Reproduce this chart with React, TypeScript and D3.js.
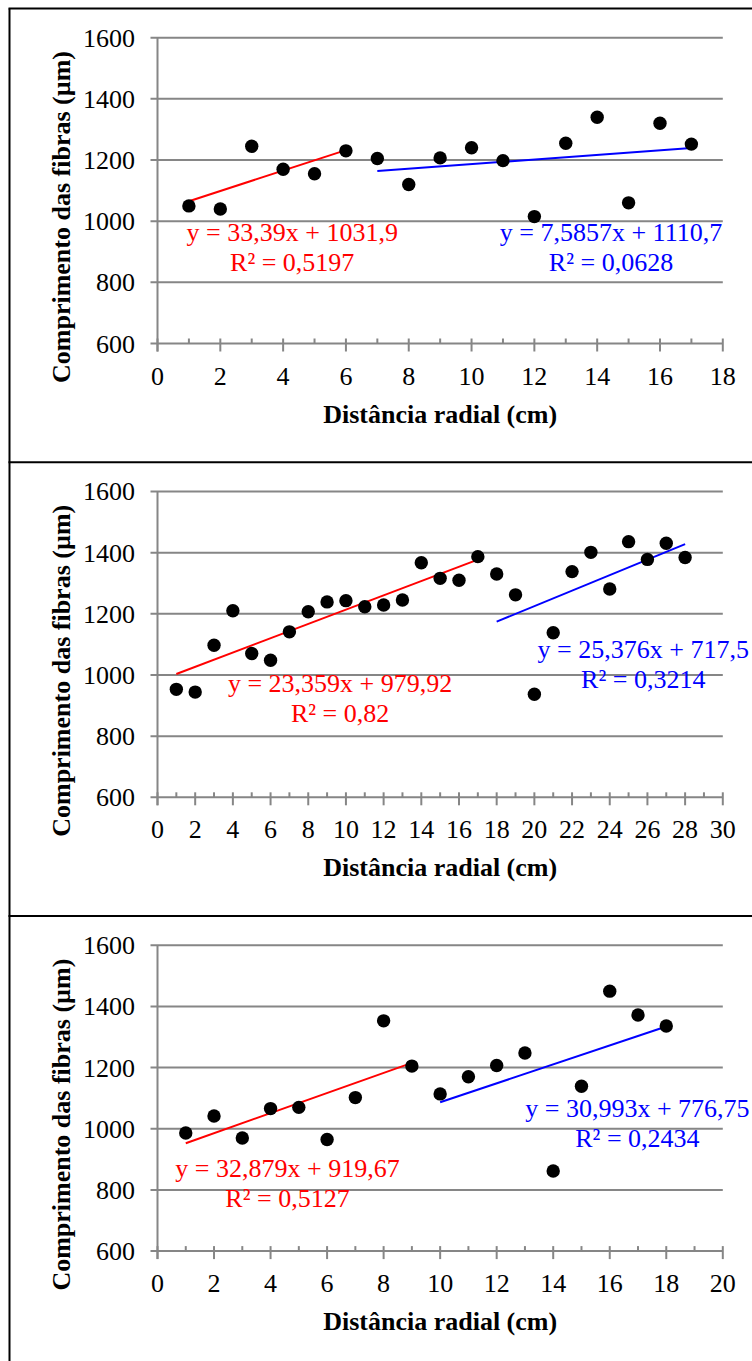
import React from "react";
import * as d3 from "d3";

// Fibre length (µm) against radial distance (cm), one tree per panel
const yTicks = [600, 800, 1000, 1200, 1400, 1600];

const comprimento1 = [1050, 1040, 1245, 1170, 1155, 1230, 1205, 1120, 1207, 1240, 1198, 1015, 1255, 1340, 1060, 1320, 1252];
const comprimento2 = [953, 944, 1097, 1210, 1070, 1048, 1141, 1207, 1239, 1243, 1223, 1229, 1245, 1367, 1316, 1310, 1387, 1330, 1262, 937, 1138, 1338, 1401, 1281, 1436, 1378, 1431, 1384];
const comprimento3 = [986, 1042, 970, 1066, 1070, 965, 1102, 1353, 1205, 1114, 1170, 1207, 1248, 862, 1139, 1450, 1372, 1336];

const xMaxima = [18, 30, 20];

type Trend = {
  slope: number;
  intercept: number;
  from: number;
  to: number;
  color: string;
  equation: string;
  r2: string;
  labelX: number;
  labelY: number;
};

const tendencias1: Trend[] = [
  { slope: 33.39, intercept: 1031.9, from: 1, to: 6, color: "#ff0000", equation: "y = 33,39x + 1031,9", r2: "R² = 0,5197", labelX: 4.29, labelY: 936 },
  { slope: 7.5857, intercept: 1110.7, from: 7, to: 17, color: "#0000ff", equation: "y = 7,5857x + 1110,7", r2: "R² = 0,0628", labelX: 14.44, labelY: 936 },
];
const tendencias2: Trend[] = [
  { slope: 23.359, intercept: 979.92, from: 1, to: 17, color: "#ff0000", equation: "y = 23,359x + 979,92", r2: "R² = 0,82", labelX: 9.69, labelY: 945 },
  { slope: 25.376, intercept: 717.5, from: 18, to: 28, color: "#0000ff", equation: "y = 25,376x + 717,5", r2: "R² = 0,3214", labelX: 25.78, labelY: 1055 },
];
const tendencias3: Trend[] = [
  { slope: 32.879, intercept: 919.67, from: 1, to: 9, color: "#ff0000", equation: "y = 32,879x + 919,67", r2: "R² = 0,5127", labelX: 4.6, labelY: 842 },
  { slope: 30.993, intercept: 776.75, from: 10, to: 18, color: "#0000ff", equation: "y = 30,993x + 776,75", r2: "R² = 0,2434", labelX: 16.98, labelY: 1039 },
];

const series = [comprimento1, comprimento2, comprimento3];
const tendencias = [tendencias1, tendencias2, tendencias3];

const W = 752;
const H = 1361;
const PANEL_STEP = 453.8;
const FONT = "'Liberation Serif', 'Times New Roman', Times, serif";
const GRID = "#868686";
const LINE_GAP = 30;

const plotLeft = 157.5;
const plotRight = 722.8;
const plotTop = 37.7;
const plotBottom = 343.5;

function Panel({ index }: { index: number }) {
  const offset = index * PANEL_STEP;
  const values = series[index];
  const xMax = xMaxima[index];
  const x = d3.scaleLinear().domain([0, xMax]).range([plotLeft, plotRight]);
  const y = d3.scaleLinear().domain([600, 1600]).range([plotBottom, plotTop]);
  const majorTicks = d3.range(0, xMax + 1, 2);
  const minorTicks = d3.range(1, xMax, 2);
  const trendPath = (tr: Trend) =>
    d3
      .line<number>()
      .x((d) => x(d))
      .y((d) => y(tr.slope * d + tr.intercept))([tr.from, tr.to]) || "";

  return (
    <g transform={`translate(0,${offset})`}>
      {/* horizontal grid with outward ticks */}
      {yTicks.map((t) => (
        <g key={`g${t}`}>
          <line x1={plotLeft - 7} x2={plotRight} y1={y(t)} y2={y(t)} stroke={GRID} strokeWidth={2} />
          <text x={135} y={y(t) + 9} fontSize={26} textAnchor="end" style={{ fontFamily: FONT }} fill="#000">
            {t}
          </text>
        </g>
      ))}
      {/* vertical axis */}
      <line x1={plotLeft} x2={plotLeft} y1={plotTop} y2={plotBottom + 8} stroke={GRID} strokeWidth={2} />
      {/* x ticks: major crossing the axis, minor inside */}
      {majorTicks.map((t) => (
        <g key={`M${t}`}>
          <line x1={x(t)} x2={x(t)} y1={plotBottom - 5} y2={plotBottom + 8} stroke={GRID} strokeWidth={2} />
          <text x={x(t)} y={plotBottom + 41} fontSize={26} textAnchor="middle" style={{ fontFamily: FONT }} fill="#000">
            {t}
          </text>
        </g>
      ))}
      {minorTicks.map((t) => (
        <line key={`m${t}`} x1={x(t)} x2={x(t)} y1={plotBottom - 5} y2={plotBottom} stroke={GRID} strokeWidth={2} />
      ))}
      {/* axis titles */}
      <text
        x={(plotLeft + plotRight) / 2}
        y={plotBottom + 79}
        fontSize={26}
        fontWeight="bold"
        textAnchor="middle"
        style={{ fontFamily: FONT }}
        fill="#000"
      >
        Distância radial (cm)
      </text>
      <text
        transform={`translate(69.5,217) rotate(-90)`}
        fontSize={26}
        fontWeight="bold"
        textAnchor="middle"
        style={{ fontFamily: FONT }}
        fill="#000"
      >
        Comprimento das fibras (µm)
      </text>
      {/* linear trend lines */}
      {tendencias[index].map((tr, i) => (
        <path key={`t${i}`} d={trendPath(tr)} stroke={tr.color} strokeWidth={2} fill="none" />
      ))}
      {/* points */}
      {values.map((v, i) => (
        <circle key={`p${i}`} cx={x(i + 1)} cy={y(v)} r={6.7} fill="#000" />
      ))}
      {/* equation labels */}
      {tendencias[index].map((tr, i) => (
        <g key={`l${i}`} style={{ fontFamily: FONT }} fontSize={26} fill={tr.color} textAnchor="middle">
          <text x={x(tr.labelX)} y={y(tr.labelY)}>
            {tr.equation}
          </text>
          <text x={x(tr.labelX)} y={y(tr.labelY) + LINE_GAP}>
            {tr.r2}
          </text>
        </g>
      ))}
    </g>
  );
}

export default function App() {
  return (
    <div style={{ position: "absolute", left: 0, top: 0, width: W, height: H, overflow: "hidden" }}>
      <svg width={W} height={H} viewBox={`0 0 ${W} ${H}`} style={{ display: "block", background: "#fff", fontFamily: FONT }}>
        <rect x={0} y={0} width={W} height={H} fill="#fff" />
        {[0, 1, 2].map((i) => (
          <Panel key={i} index={i} />
        ))}
        {/* outer frame and panel separators */}
        <line x1={9.5} x2={9.5} y1={8.5} y2={H + 5} stroke="#000" strokeWidth={2} />
        {[0, 1, 2].map((i) => (
          <line key={`s${i}`} x1={8.5} x2={W + 5} y1={8.5 + i * PANEL_STEP} y2={8.5 + i * PANEL_STEP} stroke="#000" strokeWidth={2} />
        ))}
      </svg>
    </div>
  );
}
